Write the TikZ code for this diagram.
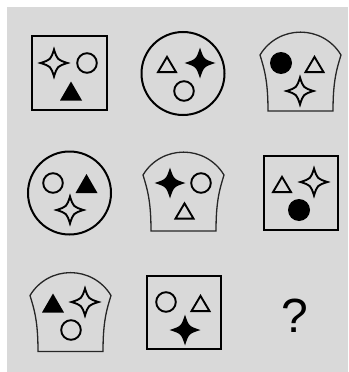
\documentclass[tikz,border=0pt]{standalone}
\usepackage{fontspec}
\setmainfont{Liberation Sans}
\definecolor{bggray}{RGB}{217,217,217}
\tikzset{
  frame/.style={draw=black,line width=2pt},
  headline/.style={draw=black!85,line width=1.3pt},
  inner/.style={draw=black,line width=1.9pt,line join=miter},
  ostar/.pic={\draw[inner] (0,-13.5) .. controls (3.3,-3.3) .. (13.5,0) .. controls (3.3,3.3) .. (0,13.5) .. controls (-3.3,3.3) .. (-13.5,0) .. controls (-3.3,-3.3) .. cycle;},
  fstar/.pic={\fill (0,-15.5) .. controls (3.8,-3.8) .. (15.5,0) .. controls (3.8,3.8) .. (0,15.5) .. controls (-3.8,3.8) .. (-15.5,0) .. controls (-3.8,-3.8) .. cycle;},
  otri/.pic={\draw[inner] (-9,7.6) -- (9,7.6) -- (0,-7.6) -- cycle;},
  ftri/.pic={\fill (-11,9.5) -- (11,9.5) -- (0,-9.5) -- cycle;},
  ocirc/.pic={\draw[inner] (0,0) circle[radius=9.8];},
  fcirc/.pic={\fill (0,0) circle[radius=11];},
  head/.pic={\draw[headline] (-40.5,-16.5) .. controls (-22,-47) and (22,-47) .. (40.5,-16.5)
     .. controls (36,-2) and (32.5,10) .. (32.5,39.5) -- (-32.5,39.5)
     .. controls (-32.5,10) and (-36,-2) .. cycle;},
}
\begin{document}
\begin{tikzpicture}[x=1pt,y=-1pt]
\useasboundingbox (0,0) rectangle (348,372);
\fill[bggray] (7,7) rectangle (348,372);
% row 1
\draw[frame] (32,36) rectangle (106.5,110);
\pic at (54,63) {ostar};
\pic at (87,63) {ocirc};
\pic at (71,91) {ftri};
\draw[frame] (183,73.5) circle[radius=41.5];
\pic at (167,64.5) {otri};
\pic at (200,63) {fstar};
\pic at (184,91) {ocirc};
\pic at (300.5,71.5) {head};
\pic at (281,63) {fcirc};
\pic at (314.5,64.5) {otri};
\pic at (300,91) {ostar};
% row 2
\draw[frame] (69.5,193) circle[radius=41.5];
\pic at (53,183) {ocirc};
\pic at (86.5,183.5) {ftri};
\pic at (70,210) {ostar};
\pic at (183.5,191.5) {head};
\pic at (170,183) {fstar};
\pic at (201,183) {ocirc};
\pic at (184.5,211) {otri};
\draw[frame] (263.5,155.5) rectangle (337.5,229.5);
\pic at (282,184.5) {otri};
\pic at (314,182) {ostar};
\pic at (299,210) {fcirc};
% row 3
\pic at (70.5,312) {head};
\pic at (53,303) {ftri};
\pic at (85,302) {ostar};
\pic at (71,330) {ocirc};
\draw[frame] (146.5,275.5) rectangle (220.5,348.5);
\pic at (166,302) {ocirc};
\pic at (200.5,303.5) {otri};
\pic at (185,330) {fstar};
\node (q) at (295,316) {\fontsize{48}{48}\selectfont ?};
\end{tikzpicture}
\end{document}
